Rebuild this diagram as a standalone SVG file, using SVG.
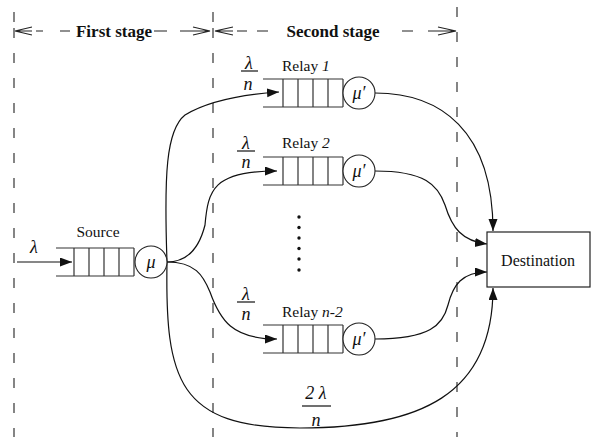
<svg xmlns="http://www.w3.org/2000/svg" width="592" height="437" viewBox="0 0 592 437">
<style>
text{font-family:"Liberation Serif","Times New Roman",serif;fill:#111}
.lbl{font-size:15.5px}
.hdr{font-size:17px;font-weight:bold}
.it{font-style:italic}
.sym{font-size:18px;font-style:italic}
.q{fill:none;stroke:#333;stroke-width:1.2}
.srv{fill:#fff;stroke:#222;stroke-width:1.1}
.vd{stroke:#222;stroke-width:1.1;stroke-dasharray:10 15;fill:none}
.hd{stroke:#222;stroke-width:1.1;fill:none}
.c{fill:none;stroke:#111;stroke-width:1.2}
.ul{stroke:#111;stroke-width:1.2}
</style>
<defs>
<marker id="ah" markerUnits="userSpaceOnUse" markerWidth="13" markerHeight="10" refX="12" refY="4.5" orient="auto">
<path d="M0,0 L12,4.5 L0,9 z" fill="#111"/>
</marker>
</defs>
<rect width="592" height="437" fill="#fff"/>
<g id="stages">
<line class="hd" x1="14" y1="12" x2="14" y2="22"/>
<line class="vd" x1="14" y1="28" x2="14" y2="437"/>
<line class="hd" x1="213" y1="12" x2="213" y2="22"/>
<line class="vd" x1="213" y1="28" x2="213" y2="437"/>
<line class="vd" x1="457" y1="7" x2="457" y2="437"/>
<path class="hd" d="M32,27 L15,31 L32,35 M15,31H32 M36,31H43 M60,31H70 M154,31H167 M180,31H193 M193,27 L210,31 L193,35 M193,31H210 M233,27 L215,31 L233,35 M215,31H233 M237,31H247 M257,31H268 M402,31H413 M428,31H438 M438,27 L456,31 L438,35 M438,31H456"/>
<text class="hdr" x="114" y="37" text-anchor="middle">First stage</text>
<text class="hdr" x="333" y="37" text-anchor="middle">Second stage</text>
</g>
<g id="connectors">
<path class="c" d="M17,262 H72" marker-end="url(#ah)"/>
<path class="c" d="M167,262 C164,175 166,130 185,115 C205,103 235,95 279,92" marker-end="url(#ah)"/>
<path class="c" d="M167,262 C190,262 200,245 205,225 C208,190 213,171 277,171" marker-end="url(#ah)"/>
<path class="c" d="M167,262 C195,262 203,275 210,292 C220,320 232,339 277,339" marker-end="url(#ah)"/>
<path class="c" d="M167,262 C165,380 178,428 300,428 C420,428 493,395 493,288" marker-end="url(#ah)"/>
<path class="c" d="M375,93 C440,93 493,130 493,231" marker-end="url(#ah)"/>
<path class="c" d="M375,171 C425,171 438,185 445,205 C452,228 462,241 487,244" marker-end="url(#ah)"/>
<path class="c" d="M375,339 C430,339 443,325 448,305 C453,285 462,272 487,272" marker-end="url(#ah)"/>
</g>
<g id="source">
<path class="q" d="M56,248 H134 M56,276 H134 M74,248 V276 M89,248 V276 M104,248 V276 M119,248 V276 M134,248 V276"/>
<circle class="srv" cx="151" cy="262" r="16"/>
<text class="sym" x="151" y="268" text-anchor="middle">μ</text>
<text class="lbl" x="98" y="237" text-anchor="middle">Source</text>
<text class="sym" x="34" y="253" text-anchor="middle">λ</text>
</g>
<g id="relay1">
<path class="q" d="M263,79 H343 M263,107 H343 M283,79 V107 M298,79 V107 M313,79 V107 M328,79 V107 M343,79 V107"/>
<circle class="srv" cx="359" cy="93" r="16"/>
<text class="sym" x="359" y="99" text-anchor="middle">μ′</text>
<text class="lbl" x="282" y="71">Relay <tspan class="it">1</tspan></text>
<text class="sym" x="249" y="69" text-anchor="middle">λ</text>
<line class="ul" x1="241" y1="71" x2="258" y2="71"/>
<text class="sym" x="248" y="90" text-anchor="middle">n</text>
</g>
<g id="relay2">
<path class="q" d="M263,157 H343 M263,185 H343 M283,157 V185 M298,157 V185 M313,157 V185 M328,157 V185 M343,157 V185"/>
<circle class="srv" cx="359" cy="171" r="16"/>
<text class="sym" x="359" y="177" text-anchor="middle">μ′</text>
<text class="lbl" x="282" y="148">Relay <tspan class="it">2</tspan></text>
<text class="sym" x="246" y="149" text-anchor="middle">λ</text>
<line class="ul" x1="237" y1="151" x2="255" y2="151"/>
<text class="sym" x="246" y="168" text-anchor="middle">n</text>
</g>
<g id="dots">
<circle cx="299" cy="217" r="1.7" fill="#111"/>
<circle cx="299" cy="227.5" r="1.7" fill="#111"/>
<circle cx="299" cy="238" r="1.7" fill="#111"/>
<circle cx="299" cy="248.5" r="1.7" fill="#111"/>
<circle cx="299" cy="259" r="1.7" fill="#111"/>
<circle cx="299" cy="270" r="1.7" fill="#111"/>
</g>
<g id="relayn2">
<path class="q" d="M263,325 H343 M263,353 H343 M283,325 V353 M298,325 V353 M313,325 V353 M328,325 V353 M343,325 V353"/>
<circle class="srv" cx="359" cy="339" r="16"/>
<text class="sym" x="359" y="345" text-anchor="middle">μ′</text>
<text class="lbl" x="282" y="317">Relay <tspan class="it">n-2</tspan></text>
<text class="sym" x="246" y="300" text-anchor="middle">λ</text>
<line class="ul" x1="237" y1="302" x2="255" y2="302"/>
<text class="sym" x="246" y="320" text-anchor="middle">n</text>
</g>
<g id="destination">
<rect x="487" y="232" width="103" height="55" fill="#fff" stroke="#222" stroke-width="1.2"/>
<text x="538" y="266" text-anchor="middle" style="font-size:16px">Destination</text>
</g>
<g id="direct-label">
<text class="sym" x="316" y="399" text-anchor="middle">2 λ</text>
<line class="ul" x1="302" y1="406" x2="331" y2="406"/>
<text class="sym" x="316" y="426" text-anchor="middle">n</text>
</g>
</svg>
